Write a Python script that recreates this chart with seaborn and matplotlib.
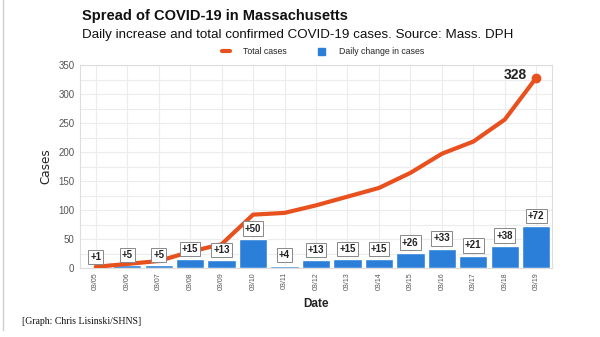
import matplotlib
matplotlib.use("Agg")
import matplotlib.pyplot as plt
import seaborn as sns
import pandas as pd
import numpy as np

dates = ["03/05", "03/06", "03/07", "03/08", "03/09", "03/10", "03/11", "03/12",
         "03/13", "03/14", "03/15", "03/16", "03/17", "03/18", "03/19"]
daily_change = [1, 5, 5, 15, 13, 50, 4, 13, 15, 15, 26, 33, 21, 38, 72]
total_cases = [2, 7, 12, 28, 41, 92, 95, 108, 123, 138, 164, 197, 218, 256, 328]
y_ticks = [0, 50, 100, 150, 200, 250, 300, 350]

df = pd.DataFrame({"Date": dates, "Daily": daily_change, "Total": total_cases})

sns.set_theme(style="white")
plt.rcParams['font.family'] = ['Liberation Sans', 'DejaVu Sans']

BAR = "#2B7FD9"
LINE = "#E8501E"

fig = plt.figure(figsize=(6, 3.37), dpi=100)
ax = fig.add_axes([80/600, 1 - 268/337, (552-80)/600, (268-65)/337])

sns.barplot(data=df, x="Date", y="Daily", color=BAR, width=0.9, ax=ax,
            saturation=1, zorder=2)
sns.lineplot(x=np.arange(len(dates)), y=df["Total"], color=LINE, linewidth=3,
             ax=ax, zorder=3)
ax.plot(len(dates) - 1, total_cases[-1], "o", color=LINE, markersize=6, zorder=4)

ax.set_xlim(-0.5, len(dates) - 0.5)
ax.set_ylim(0, 350)
ax.set_yticks(y_ticks)
ax.set_yticks(np.arange(0, 351, 25), minor=True)
ax.grid(True, which="both", axis="y", color="#ececec", linewidth=0.8, zorder=0)
ax.grid(True, which="major", axis="x", color="#ececec", linewidth=0.8, zorder=0)
ax.set_axisbelow(True)

for s in ax.spines.values():
    s.set_color("#dddddd")
    s.set_linewidth(0.8)

ax.tick_params(axis="y", labelsize=7, colors="#555555", length=0, pad=4)
ax.tick_params(axis="x", labelsize=5, colors="#555555", length=0, pad=3,
               labelrotation=90)

ax.set_xlabel("Date", fontsize=8.5, fontweight="bold", color="#222222", labelpad=6)
ax.set_ylabel("Cases", fontsize=9.5, color="#222222", labelpad=4,
              family=["DejaVu Sans"], fontstretch="condensed")

for i, v in enumerate(daily_change):
    ax.annotate(f"+{v}", xy=(i, v), xytext=(0, 7.5), textcoords="offset points",
                ha="center", va="center", fontsize=7, fontweight="bold",
                color="#222222",
                bbox=dict(boxstyle="square,pad=0.22", fc="white", ec="#888888",
                          lw=0.7), zorder=5)

ax.annotate(f"{total_cases[-1]}", xy=(len(dates) - 1, total_cases[-1]),
            xytext=(-7, 2), textcoords="offset points", ha="right", va="center",
            fontsize=10, fontweight="bold", color="#222222")

fig.text(82/600, 1 - 16/337, "Spread of COVID-19 in Massachusetts", fontsize=10.5,
         fontweight="bold", color="#111111", va="center", ha="left")
fig.text(82/600, 1 - 35/337,
         "Daily increase and total confirmed COVID-19 cases. Source: Mass. DPH",
         fontsize=9.6, color="#111111", va="center", ha="left")

# legend
from matplotlib.lines import Line2D
from matplotlib.patches import Patch
handles = [Line2D([0], [0], color=LINE, lw=3), Patch(color=BAR)]
leg = fig.legend(handles, ["Total cases", "Daily change in cases"],
                 loc="center", bbox_to_anchor=(323/600, 1 - 52/337), ncol=2,
                 frameon=False, fontsize=6.3, handlelength=0.9, handleheight=1.0,
                 columnspacing=3.5, handletextpad=1.5)

fig.text(22/600, 1 - 322/337, "[Graph: Chris Lisinski/SHNS]", fontsize=7,
         family=["Liberation Serif", "DejaVu Serif"], color="#111111",
         va="center", ha="left")

fig.add_artist(plt.Line2D([3/600, 3/600], [1 - 330/337, 1], color="#cccccc",
                          lw=1, transform=fig.transFigure))

fig.savefig("out.png", dpi=100, facecolor="white")
